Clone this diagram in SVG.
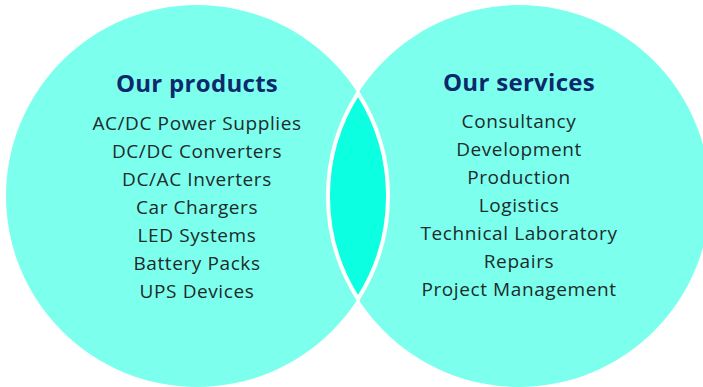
<svg xmlns="http://www.w3.org/2000/svg" width="703" height="387" viewBox="0 0 703 387">
  <style>
    .circle { fill: #7dffee; }
    .lens { fill: #0cffe0; stroke: #ffffff; stroke-width: 4; }
    .title { font-family: "Open Sans", "Liberation Sans", sans-serif; font-weight: 700; font-size: 24px; letter-spacing: 0.3px; fill: #0b2a6b; text-anchor: middle; }
    .item { font-family: "Open Sans", "Liberation Sans", sans-serif; font-size: 19px; letter-spacing: 0.6px; fill: #1c2b2b; text-anchor: middle; }
  </style>
  <rect width="703" height="387" fill="#ffffff"/>
  <g id="products">
    <circle class="circle" cx="197" cy="196" r="191"/>
    <text class="title" x="197" y="92">Our products</text>
    <text class="item" x="197" y="130">AC/DC Power Supplies</text>
    <text class="item" x="197" y="158">DC/DC Converters</text>
    <text class="item" x="197" y="186">DC/AC Inverters</text>
    <text class="item" x="197" y="214">Car Chargers</text>
    <text class="item" x="197" y="242">LED Systems</text>
    <text class="item" x="197" y="270">Battery Packs</text>
    <text class="item" x="197" y="298">UPS Devices</text>
  </g>
  <g id="services">
    <circle class="circle" cx="519" cy="196" r="191"/>
    <text class="title" x="519" y="91">Our services</text>
    <text class="item" x="519" y="128">Consultancy</text>
    <text class="item" x="519" y="156">Development</text>
    <text class="item" x="519" y="184">Production</text>
    <text class="item" x="519" y="212">Logistics</text>
    <text class="item" x="519" y="240">Technical Laboratory</text>
    <text class="item" x="519" y="268">Repairs</text>
    <text class="item" x="519" y="296">Project Management</text>
  </g>
  <g id="overlap">
    <path class="lens" d="M358,93.2 A191,191 0 0 1 358,298.8 A191,191 0 0 1 358,93.2 Z"/>
  </g>
</svg>
